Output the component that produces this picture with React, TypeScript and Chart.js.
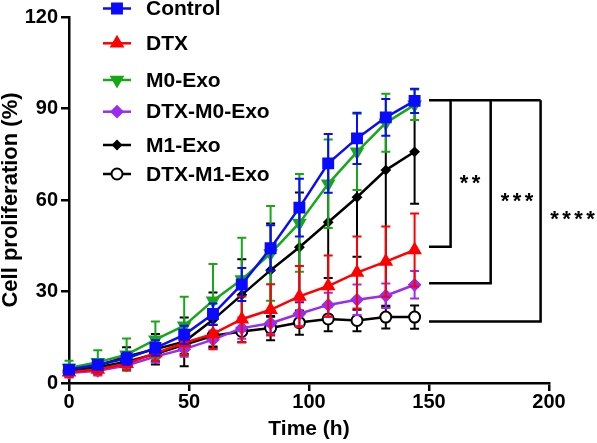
import React, { useEffect, useRef } from "react";
import { Chart, registerables } from "chart.js";
import { drawPoint } from "chart.js/helpers";

Chart.register(...registerables);

// ---- data ----
const times = [0, 12, 24, 36, 48, 60, 72, 84, 96, 108, 120, 132, 144];

const controlMean = [4.4, 6.0, 8.0, 11.5, 15.8, 22.6, 32.3, 44.2, 57.5, 72.0, 80.2, 87.1, 92.5];
const controlSd = [1.5, 1.5, 2, 2.5, 3, 3.5, 5.4, 7.5, 9.5, 9.6, 8.4, 6, 4];

const dtxMean = [3.5, 4.4, 6.3, 9.8, 13.1, 16.1, 20.9, 24.0, 28.4, 31.8, 36.2, 39.8, 43.6];
const dtxSd = [1.5, 1.5, 2, 2.5, 4, 5, 7.5, 8.4, 10, 10, 11.8, 11.5, 12];

const m0Mean = [4.9, 6.8, 9.3, 14.2, 18.8, 27.0, 33.9, 42.5, 52.5, 65.3, 75.8, 85.3, 91.2];
const m0Sd = [2.4, 3.9, 5.3, 6, 9.5, 12, 13.7, 15.5, 16, 14.5, 12.5, 9.5, 5];

const dtxM0Mean = [3.3, 4.0, 5.7, 8.7, 11.1, 14.2, 18.0, 19.6, 22.7, 25.6, 27.3, 28.6, 32.2];
const dtxM0Sd = [1.5, 1.5, 1.5, 2, 2.5, 3, 3.5, 3.5, 4, 4, 5, 4, 4.5];

const m1Mean = [4.0, 5.7, 8.7, 11.1, 13.5, 20.7, 28.9, 37.0, 44.5, 52.7, 60.9, 69.8, 75.8];
const m1SdUp = [1.5, 2, 3, 5, 8, 9, 11.7, 15.3, 18, 18.3, 19.5, 16, 17];
const m1SdDown = [1.5, 2, 3, 5, 8, 9, 11.7, 15.3, 18, 18.3, 19.5, 45, 17];

const dtxM1Mean = [4.0, 5.2, 7.0, 9.5, 12.5, 15.5, 16.9, 18.0, 19.8, 21.0, 20.5, 21.6, 21.6];
const dtxM1Sd = [1.5, 1.5, 2, 2.5, 3, 3.5, 3.5, 4, 4, 4, 3.5, 3.7, 3.8];

const seriesNames = ["Control", "DTX", "M0-Exo", "DTX-M0-Exo", "M1-Exo", "DTX-M1-Exo"];

// significance brackets (data units)
const bracketTop = 92.7;
const bracketStartX = 150;
const bracketX = [159, 175.7, 196.5];
const bracketBottom = [44.7, 32.7, 20.2];
const bracketLabels = ["**", "***", "****"];
const bracketLabelX = [167.1, 186.7, 209.8];
const bracketLabelY = [67.6, 61.6, 55.6];

const xTicksStep = 50;
const yTicksStep = 30;

const FONT = "'Liberation Sans', Arial, sans-serif";

const errorBarPlugin = {
  id: "errorBars",
  beforeDatasetDraw(chart: any, args: any) {
    const ds = chart.data.datasets[args.index];
    if (!ds.errUp) return;
    const { ctx } = chart;
    const x = chart.scales.x;
    const y = chart.scales.y;
    ctx.save();
    ctx.strokeStyle = ds.barColor;
    ctx.lineWidth = 2;
    ds.data.forEach((p: any, i: number) => {
      const px = x.getPixelForValue(p.x);
      const top = y.getPixelForValue(p.y + ds.errUp[i]);
      const bot = y.getPixelForValue(p.y - ds.errDown[i]);
      const cw = 4.5;
      ctx.beginPath();
      ctx.moveTo(px, top);
      ctx.lineTo(px, bot);
      ctx.moveTo(px - cw, top);
      ctx.lineTo(px + cw, top);
      ctx.moveTo(px - cw, bot);
      ctx.lineTo(px + cw, bot);
      ctx.stroke();
    });
    ctx.restore();
  },
};

const annotationPlugin = {
  id: "annotations",
  afterDraw(chart: any) {
    const { ctx } = chart;
    const x = chart.scales.x;
    const y = chart.scales.y;
    ctx.save();
    ctx.strokeStyle = "#000";
    ctx.lineWidth = 2.5;
    const topPx = y.getPixelForValue(bracketTop);
    const startPx = x.getPixelForValue(bracketStartX);
    ctx.beginPath();
    ctx.moveTo(startPx, topPx);
    ctx.lineTo(x.getPixelForValue(bracketX[bracketX.length - 1]), topPx);
    ctx.stroke();
    bracketX.forEach((bx, i) => {
      const vx = x.getPixelForValue(bx);
      const by = y.getPixelForValue(bracketBottom[i]);
      ctx.beginPath();
      ctx.moveTo(vx, topPx);
      ctx.lineTo(vx, by);
      ctx.lineTo(startPx, by);
      ctx.stroke();
    });
    // stars
    const fs = 22;
    ctx.fillStyle = "#000";
    ctx.font = `bold ${fs}px ${FONT}`;
    ctx.textAlign = "center";
    ctx.textBaseline = "alphabetic";
    bracketLabels.forEach((lab, i) => {
      const cx = x.getPixelForValue(bracketLabelX[i]);
      const cy = y.getPixelForValue(bracketLabelY[i]);
      const n = lab.length;
      const sp = 12;
      for (let k = 0; k < n; k++) {
        const sx = cx + (k - (n - 1) / 2) * sp;
        ctx.fillText("*", sx, cy + fs * 0.58);
      }
    });
    ctx.restore();

    // legend
    const rows = [8.5, 43.3, 80, 111.7, 145, 174];
    ctx.save();
    chart.data.datasets.forEach((ds: any, i: number) => {
      const ly = rows[i];
      ctx.strokeStyle = ds.borderColor;
      ctx.lineWidth = 2.5;
      ctx.beginPath();
      ctx.moveTo(103, ly);
      ctx.lineTo(131, ly);
      ctx.stroke();
      ctx.fillStyle = ds.pointBackgroundColor;
      ctx.strokeStyle = ds.pointBorderColor;
      ctx.lineWidth = ds.pointBorderWidth;
      drawPoint(ctx, { pointStyle: ds.pointStyle, rotation: ds.pointRotation || 0, radius: ds.pointRadius, borderWidth: ds.pointBorderWidth }, 117, ly);
      ctx.fillStyle = "#000";
      ctx.font = `bold 21px ${FONT}`;
      ctx.textAlign = "left";
      ctx.textBaseline = "middle";
      ctx.fillText(ds.label, 146, ly + 1);
    });
    ctx.restore();
  },
};

function makeSeries(label: string, mean: number[], up: number[], down: number[], color: string, style: string, radius: number, rotation: number, fill: string) {
  return {
    label,
    data: times.map((t, i) => ({ x: t, y: mean[i] })),
    errUp: up,
    errDown: down,
    barColor: color,
    borderColor: color,
    borderWidth: 2.5,
    pointStyle: style,
    pointRadius: radius,
    pointRotation: rotation,
    pointBackgroundColor: fill,
    pointBorderColor: color,
    pointBorderWidth: 2,
    pointHoverRadius: radius,
    tension: 0,
    clip: false,
    fill: false,
  };
}

export default function App() {
  const ref = useRef<HTMLCanvasElement | null>(null);
  useEffect(() => {
    if (!ref.current) return;
    const datasets: any[] = [
      makeSeries(seriesNames[0], controlMean, controlSd, controlSd, "#0a0aff", "rect", 7, 0, "#0a0aff"),
      makeSeries(seriesNames[1], dtxMean, dtxSd, dtxSd, "#ff0000", "triangle", 6.5, 0, "#ff0000"),
      makeSeries(seriesNames[2], m0Mean, m0Sd, m0Sd, "#16a816", "triangle", 6.5, 180, "#16a816"),
      makeSeries(seriesNames[3], dtxM0Mean, dtxM0Sd, dtxM0Sd, "#9a2cf0", "rectRot", 5.5, 0, "#9a2cf0"),
      makeSeries(seriesNames[4], m1Mean, m1SdUp, m1SdDown, "#000000", "rectRot", 4, 0, "#000000"),
      makeSeries(seriesNames[5], dtxM1Mean, dtxM1Sd, dtxM1Sd, "#000000", "circle", 5.5, 0, "#ffffff"),
    ];
    const chart = new Chart(ref.current, {
      type: "line",
      data: { datasets },
      options: {
        animation: false,
        responsive: false,
        events: [],
        layout: { padding: { top: 17, right: 48, left: 0, bottom: 0 } },
        plugins: { legend: { display: false }, tooltip: { enabled: false } },
        scales: {
          x: {
            type: "linear",
            min: 0,
            max: 200,
            ticks: { stepSize: xTicksStep, color: "#000", font: { family: FONT, size: 20, weight: "bold" }, padding: -1, maxRotation: 0 },
            grid: { drawOnChartArea: false, color: "#000", lineWidth: 2.5, tickLength: 8 },
            border: { color: "#000", width: 2.5 },
            title: { display: true, text: "Time (h)", color: "#000", font: { family: FONT, size: 21, weight: "bold", lineHeight: 1.2 }, padding: { top: 0, bottom: 1 } },
            afterFit: (s: any) => { s.height = 60; },
          },
          y: {
            type: "linear",
            min: 0,
            max: 120,
            ticks: { stepSize: yTicksStep, color: "#000", font: { family: FONT, size: 20, weight: "bold" }, padding: 3 },
            grid: { drawOnChartArea: false, color: "#000", lineWidth: 2.5, tickLength: 8 },
            border: { color: "#000", width: 2.5 },
            title: { display: true, text: "Cell proliferation (%)", color: "#000", font: { family: FONT, size: 22, weight: "bold", lineHeight: 1.0 }, padding: { top: 0, bottom: 0 } },
            afterFit: (s: any) => { s.width = 69; },
          },
        },
      } as any,
      plugins: [errorBarPlugin, annotationPlugin],
    });
    return () => chart.destroy();
  }, []);
  return (
    <div style={{ position: "absolute", left: 0, top: 0, width: 597, height: 443, background: "#fff" }}>
      <canvas ref={ref} width={597} height={443} />
    </div>
  );
}
